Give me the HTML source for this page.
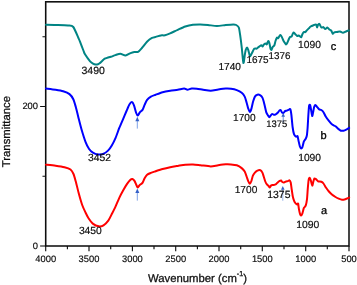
<!DOCTYPE html>
<html><head><meta charset="utf-8"><title>FTIR spectra</title>
<style>
html,body{margin:0;padding:0;background:#fff;}
svg{display:block;font-family:"Liberation Sans",Arial,sans-serif;}
svg text{fill:#0a0a0a;stroke:#0a0a0a;stroke-width:0.15px;text-rendering:geometricPrecision;}
svg text.h{stroke-width:0.25px;}
svg text.k{fill:#000;stroke:#000;stroke-width:0.3px;}
</style></head><body>
<svg width="357" height="285" viewBox="0 0 357 285">
<defs><filter id="soft" x="-2%" y="-2%" width="104%" height="104%"><feGaussianBlur stdDeviation="0.35"/></filter></defs>
<rect width="357" height="285" fill="#fff"/>
<g filter="url(#soft)">
<rect x="45.7" y="1.8" width="303.3" height="244.2" fill="none" stroke="#0a0a0a" stroke-width="1.55"/>
<path d="M45.7,246.0 v5.2 M67.4,246.0 v3.2 M89.0,246.0 v5.2 M110.7,246.0 v3.2 M132.4,246.0 v5.2 M154.0,246.0 v3.2 M175.7,246.0 v5.2 M197.4,246.0 v3.2 M219.0,246.0 v5.2 M240.7,246.0 v3.2 M262.3,246.0 v5.2 M284.0,246.0 v3.2 M305.7,246.0 v5.2 M327.3,246.0 v3.2 M349.0,246.0 v5.2 M45.7,246.0 h-5.6 M45.7,176.2 h-3.2 M45.7,106.5 h-5.6 M45.7,36.8 h-3.2" stroke="#0a0a0a" stroke-width="1.1" fill="none"/>
<path d="M46.00,24.80 C47.25,24.82 53.25,24.91 56.00,25.00 C58.75,25.09 65.84,25.25 68.00,25.50 C70.16,25.75 72.00,25.44 73.30,27.00 C74.60,28.56 77.56,36.16 78.40,38.00 C79.24,39.84 79.38,40.14 80.00,41.70 C80.62,43.26 82.78,48.92 83.40,50.50 C84.03,52.08 84.16,52.95 85.00,54.30 C85.84,55.65 89.10,60.14 90.10,61.30 C91.10,62.46 92.30,63.20 93.00,63.60 C93.70,64.00 95.08,64.42 95.70,64.50 C96.33,64.58 97.51,64.35 98.00,64.20 C98.49,64.05 99.11,63.67 99.60,63.30 C100.09,62.92 101.26,61.78 101.90,61.20 C102.54,60.62 104.00,59.14 104.70,58.70 C105.40,58.26 106.72,57.94 107.50,57.70 C108.28,57.46 109.91,57.12 110.90,56.80 C111.89,56.47 114.21,55.48 115.40,55.10 C116.59,54.73 119.14,53.76 120.40,53.80 C121.66,53.84 124.22,55.49 125.50,55.40 C126.78,55.31 129.50,53.51 130.60,53.10 C131.70,52.69 133.36,52.26 134.30,52.10 C135.24,51.94 137.15,52.31 138.10,51.80 C139.05,51.29 140.79,49.26 141.90,48.00 C143.01,46.74 145.74,42.96 147.00,41.70 C148.26,40.44 150.90,38.50 152.00,37.90 C153.10,37.30 154.69,37.21 155.80,36.90 C156.91,36.59 159.75,35.60 160.90,35.40 C162.05,35.20 163.85,35.55 165.00,35.30 C166.15,35.05 168.51,34.09 170.10,33.40 C171.69,32.71 175.80,30.66 177.70,29.80 C179.60,28.94 183.40,27.12 185.30,26.50 C187.20,25.88 191.01,25.05 192.90,24.80 C194.79,24.55 198.51,24.48 200.40,24.50 C202.29,24.52 205.94,24.81 208.00,25.00 C210.06,25.19 214.69,26.00 216.90,26.00 C219.11,26.00 223.65,25.20 225.70,25.00 C227.75,24.80 231.99,24.40 233.30,24.40 C234.61,24.40 235.51,24.61 236.20,25.00 C236.89,25.39 238.30,26.20 238.80,27.50 C239.30,28.80 239.82,32.84 240.20,35.40 C240.57,37.96 241.40,44.55 241.80,48.00 C242.20,51.45 243.01,62.21 243.40,63.00 C243.79,63.79 244.61,55.91 244.90,54.30 C245.19,52.69 245.42,50.96 245.70,50.10 C245.97,49.24 246.77,47.40 247.10,47.40 C247.43,47.40 247.94,49.01 248.30,50.10 C248.66,51.19 249.57,55.66 250.00,56.10 C250.43,56.54 251.17,54.51 251.70,53.60 C252.22,52.69 253.57,49.42 254.20,48.80 C254.82,48.17 256.07,48.88 256.70,48.60 C257.32,48.33 258.61,47.02 259.20,46.60 C259.79,46.18 260.97,45.20 261.40,45.20 C261.82,45.20 262.29,46.70 262.60,46.60 C262.91,46.50 263.47,44.79 263.90,44.40 C264.32,44.01 265.64,43.50 266.00,43.50 C266.36,43.50 266.53,44.71 266.80,44.40 C267.07,44.09 267.89,41.21 268.20,41.00 C268.51,40.79 269.01,41.75 269.30,42.70 C269.59,43.65 270.23,47.70 270.50,48.60 C270.77,49.50 271.23,50.11 271.50,49.90 C271.77,49.69 272.34,47.49 272.70,46.90 C273.06,46.31 274.05,45.94 274.40,45.20 C274.75,44.46 275.19,41.95 275.50,41.00 C275.81,40.05 276.56,37.95 276.90,37.60 C277.24,37.25 277.89,38.40 278.20,38.20 C278.51,38.00 279.10,36.39 279.40,36.00 C279.70,35.61 280.29,34.96 280.60,35.10 C280.91,35.24 281.52,36.36 281.90,37.10 C282.27,37.84 283.18,40.20 283.60,41.00 C284.03,41.80 284.99,43.08 285.30,43.50 C285.61,43.92 285.85,44.50 286.10,44.40 C286.35,44.30 286.94,43.40 287.30,42.70 C287.66,42.00 288.62,39.54 289.00,38.80 C289.38,38.06 289.96,37.09 290.30,36.80 C290.64,36.51 291.38,36.92 291.70,36.50 C292.02,36.08 292.61,33.89 292.90,33.40 C293.19,32.91 293.69,32.49 294.00,32.60 C294.31,32.71 295.01,33.88 295.40,34.30 C295.79,34.72 296.69,35.85 297.10,36.00 C297.51,36.15 298.29,35.40 298.70,35.50 C299.11,35.60 300.07,36.60 300.40,36.80 C300.72,37.00 301.05,37.41 301.30,37.10 C301.55,36.79 302.09,34.92 302.40,34.30 C302.71,33.67 303.46,32.38 303.80,32.10 C304.14,31.83 304.73,32.31 305.10,32.10 C305.48,31.89 306.34,30.86 306.80,30.40 C307.26,29.94 308.32,28.89 308.80,28.40 C309.28,27.91 310.01,26.90 310.60,26.50 C311.19,26.10 312.81,25.44 313.50,25.20 C314.19,24.96 315.65,24.31 316.10,24.60 C316.55,24.89 316.85,27.50 317.10,27.50 C317.35,27.50 317.81,25.04 318.10,24.60 C318.39,24.16 318.99,23.64 319.40,24.00 C319.81,24.36 320.90,27.11 321.40,27.50 C321.90,27.89 322.91,26.90 323.40,27.10 C323.89,27.30 324.81,29.05 325.30,29.10 C325.79,29.15 326.80,27.45 327.30,27.50 C327.80,27.55 328.81,29.12 329.30,29.50 C329.79,29.88 330.76,29.96 331.20,30.50 C331.64,31.04 332.43,33.56 332.80,33.80 C333.18,34.04 333.66,32.62 334.20,32.40 C334.74,32.17 336.36,32.11 337.10,32.00 C337.84,31.89 339.36,31.40 340.10,31.50 C340.84,31.60 342.26,32.80 343.00,32.80 C343.74,32.80 345.26,31.79 346.00,31.50 C346.74,31.21 348.54,30.62 348.90,30.50" fill="none" stroke="#008484" stroke-width="2" stroke-linejoin="round" stroke-linecap="round"/>
<path d="M46.00,88.60 C47.20,88.75 53.45,89.46 55.60,89.80 C57.75,90.14 61.46,90.76 63.20,91.30 C64.94,91.84 68.24,93.11 69.50,94.10 C70.76,95.09 72.51,97.59 73.30,99.20 C74.09,100.81 75.16,104.71 75.80,107.00 C76.44,109.29 77.70,114.75 78.40,117.50 C79.10,120.25 80.51,125.96 81.40,129.00 C82.29,132.04 84.54,139.30 85.50,141.80 C86.46,144.30 88.17,147.65 89.10,149.00 C90.02,150.35 91.80,151.91 92.90,152.60 C94.00,153.29 96.64,154.32 97.90,154.50 C99.16,154.68 101.74,154.49 103.00,154.00 C104.26,153.51 106.90,151.67 108.00,150.60 C109.10,149.53 110.85,147.00 111.80,145.40 C112.75,143.80 114.65,140.01 115.60,137.80 C116.55,135.59 118.45,130.08 119.40,127.70 C120.35,125.33 122.31,120.89 123.20,118.80 C124.09,116.71 125.72,112.79 126.50,111.00 C127.28,109.21 128.72,105.61 129.40,104.50 C130.08,103.39 131.33,101.99 131.90,102.10 C132.47,102.21 133.46,104.04 134.00,105.40 C134.54,106.76 135.74,111.74 136.20,113.00 C136.66,114.26 137.22,115.60 137.70,115.50 C138.17,115.40 139.40,112.90 140.00,112.20 C140.60,111.50 141.93,110.81 142.50,109.90 C143.07,108.99 144.03,106.16 144.60,104.90 C145.17,103.64 146.31,100.83 147.10,99.80 C147.89,98.77 149.85,97.33 150.90,96.70 C151.95,96.08 154.04,95.36 155.50,94.80 C156.96,94.24 160.76,92.71 162.60,92.20 C164.44,91.69 168.30,91.01 170.20,90.70 C172.10,90.39 176.06,89.98 177.80,89.70 C179.54,89.42 182.90,88.50 184.10,88.50 C185.30,88.50 186.45,89.70 187.40,89.70 C188.35,89.70 190.52,88.62 191.70,88.50 C192.88,88.38 195.38,88.55 196.80,88.70 C198.23,88.85 201.36,89.45 203.10,89.70 C204.84,89.95 208.81,90.73 210.70,90.70 C212.59,90.67 216.31,89.76 218.20,89.50 C220.09,89.24 224.20,88.69 225.80,88.60 C227.40,88.51 229.62,88.61 231.00,88.80 C232.38,88.99 235.46,89.61 236.80,90.10 C238.14,90.59 240.71,91.89 241.70,92.70 C242.69,93.51 244.09,95.38 244.70,96.60 C245.31,97.82 246.16,101.03 246.60,102.50 C247.04,103.97 247.77,107.21 248.20,108.40 C248.62,109.59 249.59,112.00 250.00,112.00 C250.41,112.00 251.11,109.71 251.50,108.40 C251.89,107.09 252.67,102.97 253.10,101.50 C253.53,100.03 254.36,97.45 254.90,96.60 C255.44,95.75 256.71,94.86 257.40,94.70 C258.09,94.54 259.77,94.94 260.40,95.30 C261.02,95.66 261.99,96.82 262.40,97.60 C262.81,98.38 263.39,100.39 263.70,101.50 C264.01,102.61 264.57,105.14 264.90,106.50 C265.22,107.86 265.93,111.30 266.30,112.40 C266.68,113.50 267.51,114.69 267.90,115.30 C268.29,115.91 269.04,117.30 269.40,117.30 C269.76,117.30 270.45,115.72 270.80,115.30 C271.15,114.88 271.82,113.98 272.20,113.90 C272.57,113.83 273.36,114.65 273.80,114.70 C274.24,114.75 275.21,114.54 275.70,114.30 C276.19,114.06 277.22,113.29 277.70,112.80 C278.18,112.31 279.14,110.75 279.50,110.40 C279.86,110.05 280.29,109.75 280.60,110.00 C280.91,110.25 281.62,112.05 282.00,112.40 C282.38,112.75 283.23,112.95 283.60,112.80 C283.98,112.65 284.59,111.48 285.00,111.20 C285.41,110.92 286.41,110.80 286.90,110.60 C287.39,110.40 288.47,109.77 288.90,109.60 C289.32,109.42 289.99,108.53 290.30,109.20 C290.61,109.88 291.11,112.78 291.40,115.00 C291.69,117.22 292.28,124.60 292.60,127.00 C292.93,129.40 293.57,132.99 294.00,134.20 C294.43,135.41 295.56,136.46 296.00,136.70 C296.44,136.94 297.19,135.61 297.50,136.10 C297.81,136.59 298.20,139.30 298.50,140.60 C298.80,141.90 299.57,145.51 299.90,146.50 C300.22,147.49 300.79,148.43 301.10,148.50 C301.41,148.57 302.06,147.96 302.40,147.10 C302.74,146.24 303.43,142.57 303.80,141.60 C304.18,140.62 305.02,140.04 305.40,139.30 C305.77,138.56 306.52,137.11 306.80,135.70 C307.08,134.29 307.41,130.46 307.60,128.00 C307.79,125.54 308.11,118.79 308.30,116.00 C308.49,113.21 308.86,107.05 309.10,105.70 C309.34,104.35 309.95,104.66 310.20,105.20 C310.45,105.74 310.85,108.64 311.10,110.00 C311.35,111.36 311.95,115.82 312.20,116.10 C312.45,116.38 312.85,113.36 313.10,112.20 C313.35,111.04 313.90,107.70 314.20,106.80 C314.50,105.90 315.15,105.00 315.50,105.00 C315.85,105.00 316.54,106.25 317.00,106.80 C317.46,107.35 318.66,109.00 319.20,109.40 C319.74,109.80 320.76,109.65 321.30,110.00 C321.84,110.35 322.95,111.39 323.50,112.20 C324.05,113.01 325.02,115.41 325.70,116.50 C326.38,117.59 328.09,119.89 328.90,120.90 C329.71,121.91 331.38,123.92 332.20,124.60 C333.02,125.27 334.74,125.76 335.50,126.30 C336.26,126.84 337.62,128.35 338.30,128.90 C338.98,129.45 340.25,130.47 340.90,130.70 C341.55,130.92 342.82,130.84 343.50,130.70 C344.18,130.56 345.59,129.95 346.30,129.60 C347.01,129.25 348.84,128.11 349.20,127.90" fill="none" stroke="#0000ff" stroke-width="2" stroke-linejoin="round" stroke-linecap="round"/>
<path d="M46.00,164.70 C47.20,164.82 53.29,165.39 55.60,165.70 C57.91,166.01 62.64,166.72 64.50,167.20 C66.36,167.67 69.38,168.65 70.50,169.50 C71.62,170.35 72.84,172.49 73.50,174.00 C74.16,175.51 75.14,179.16 75.80,181.60 C76.46,184.04 78.00,190.57 78.80,193.50 C79.60,196.43 81.36,202.62 82.20,205.00 C83.04,207.38 84.69,210.81 85.50,212.50 C86.31,214.19 87.79,217.11 88.70,218.50 C89.61,219.89 91.54,222.62 92.80,223.60 C94.06,224.57 97.46,226.09 98.80,226.30 C100.14,226.51 102.31,226.01 103.50,225.30 C104.69,224.59 107.26,222.01 108.30,220.60 C109.34,219.19 110.89,215.78 111.80,214.00 C112.71,212.22 114.65,208.45 115.60,206.40 C116.55,204.35 118.46,199.59 119.40,197.60 C120.34,195.61 122.16,192.19 123.10,190.50 C124.04,188.81 126.01,185.42 126.90,184.10 C127.79,182.78 129.51,180.54 130.20,179.90 C130.89,179.26 131.86,178.88 132.40,179.00 C132.94,179.12 133.99,180.12 134.50,180.90 C135.01,181.68 136.10,184.39 136.50,185.20 C136.90,186.01 137.26,187.46 137.70,187.40 C138.14,187.34 139.40,185.26 140.00,184.70 C140.60,184.14 141.93,183.70 142.50,182.90 C143.07,182.10 144.03,179.31 144.60,178.30 C145.17,177.29 146.31,175.48 147.10,174.80 C147.89,174.12 149.85,173.34 150.90,172.90 C151.95,172.46 154.04,171.79 155.50,171.30 C156.96,170.81 160.76,169.51 162.60,169.00 C164.44,168.49 168.30,167.59 170.20,167.20 C172.10,166.81 175.90,166.21 177.80,165.90 C179.70,165.59 183.50,164.89 185.40,164.70 C187.30,164.51 191.10,164.34 193.00,164.40 C194.90,164.46 198.39,164.95 200.60,165.20 C202.81,165.45 208.50,166.40 210.70,166.40 C212.90,166.40 216.31,165.46 218.20,165.20 C220.09,164.94 224.20,164.40 225.80,164.30 C227.40,164.20 229.62,164.28 231.00,164.40 C232.38,164.53 235.46,164.84 236.80,165.30 C238.14,165.76 240.71,167.31 241.70,168.10 C242.69,168.89 244.09,170.55 244.70,171.60 C245.31,172.65 246.16,175.31 246.60,176.50 C247.04,177.69 247.80,180.19 248.20,181.10 C248.60,182.01 249.43,183.75 249.80,183.80 C250.18,183.85 250.81,182.53 251.20,181.50 C251.59,180.47 252.44,176.71 252.90,175.60 C253.36,174.49 254.34,173.22 254.90,172.60 C255.46,171.97 256.71,170.89 257.40,170.60 C258.09,170.31 259.77,170.05 260.40,170.30 C261.02,170.55 261.99,171.82 262.40,172.60 C262.81,173.38 263.34,175.39 263.70,176.50 C264.06,177.61 264.90,180.51 265.30,181.50 C265.70,182.49 266.49,183.84 266.90,184.40 C267.31,184.96 268.24,185.62 268.60,186.00 C268.96,186.38 269.48,187.47 269.80,187.40 C270.12,187.33 270.77,185.70 271.20,185.40 C271.62,185.10 272.64,185.12 273.20,185.00 C273.76,184.88 275.14,184.72 275.70,184.40 C276.26,184.08 277.20,182.84 277.70,182.40 C278.20,181.96 279.29,181.14 279.70,180.90 C280.11,180.66 280.66,180.36 281.00,180.50 C281.34,180.64 282.02,181.76 282.40,182.00 C282.77,182.24 283.55,182.46 284.00,182.40 C284.45,182.34 285.51,181.66 286.00,181.50 C286.49,181.34 287.46,181.25 287.90,181.10 C288.34,180.95 289.15,180.14 289.50,180.30 C289.85,180.46 290.43,181.28 290.70,182.40 C290.97,183.53 291.44,187.54 291.70,189.30 C291.96,191.06 292.50,195.06 292.80,196.50 C293.10,197.94 293.74,199.93 294.10,200.80 C294.46,201.68 295.34,203.03 295.70,203.50 C296.06,203.97 296.70,204.60 297.00,204.60 C297.30,204.60 297.86,202.96 298.10,203.50 C298.34,204.04 298.66,207.60 298.90,208.90 C299.14,210.20 299.73,213.08 300.00,213.90 C300.27,214.72 300.80,215.57 301.10,215.50 C301.40,215.43 302.05,214.25 302.40,213.30 C302.75,212.35 303.49,208.85 303.90,207.90 C304.31,206.95 305.31,206.79 305.70,205.70 C306.09,204.61 306.74,201.38 307.00,199.20 C307.26,197.02 307.59,190.75 307.80,188.30 C308.01,185.85 308.45,180.91 308.70,179.60 C308.95,178.29 309.53,177.66 309.80,177.80 C310.07,177.94 310.60,179.71 310.90,180.70 C311.20,181.69 311.90,185.56 312.20,185.70 C312.50,185.84 313.03,182.70 313.30,181.80 C313.57,180.90 314.07,178.84 314.40,178.50 C314.72,178.16 315.44,178.75 315.90,179.10 C316.36,179.45 317.43,180.96 318.10,181.30 C318.78,181.64 320.62,181.53 321.30,181.80 C321.98,182.08 322.90,182.75 323.50,183.50 C324.10,184.25 325.43,186.80 326.10,187.80 C326.78,188.80 328.14,190.62 328.90,191.50 C329.66,192.38 331.38,194.11 332.20,194.80 C333.02,195.49 334.69,196.51 335.50,197.00 C336.31,197.49 337.89,198.35 338.70,198.70 C339.51,199.05 341.18,199.74 342.00,199.80 C342.82,199.86 344.40,199.47 345.30,199.20 C346.20,198.92 348.71,197.80 349.20,197.60" fill="none" stroke="#ff0000" stroke-width="2" stroke-linejoin="round" stroke-linecap="round"/>
<line x1="137.3" y1="120.7" x2="137.3" y2="128.6" stroke="#7096e4" stroke-width="0.9"/><path d="M137.3,116.8 l2.0,4.4 h-4.0 z" fill="#3560c8"/>
<line x1="137.3" y1="192.5" x2="137.3" y2="200.6" stroke="#7096e4" stroke-width="0.9"/><path d="M137.3,188.60000000000002 l2.0,4.4 h-4.0 z" fill="#3560c8"/>
<line x1="283.2" y1="116.2" x2="283.2" y2="122.6" stroke="#5f88d8" stroke-width="0.9"/><path d="M283.2,113.1 l1.8,3.6 h-3.6 z" fill="#3560c8"/>
<line x1="282.8" y1="189.20000000000002" x2="282.8" y2="200.8" stroke="#9db8ea" stroke-width="1.0"/><path d="M282.8,186.10000000000002 l1.8,3.6 h-3.6 z" fill="#3560c8"/>
<text x="81.48" y="74.3" font-size="10.51" text-anchor="start" >3490</text>
<text x="218.40" y="70.3" font-size="10.12" text-anchor="start" >1740</text>
<text x="246.41" y="63.35" font-size="9.98" text-anchor="start" >1675</text>
<text x="268.53" y="58.8" font-size="9.83" text-anchor="start" >1376</text>
<text x="298.08" y="47.9" font-size="10.27" text-anchor="start" >1090</text>
<text x="87.99" y="161.4" font-size="10.33" text-anchor="start" >3452</text>
<text x="233.10" y="120.9" font-size="10.12" text-anchor="start" >1700</text>
<text x="266.27" y="127.1" font-size="9.45" text-anchor="start" >1375</text>
<text x="298.18" y="161.1" font-size="10.27" text-anchor="start" >1090</text>
<text x="78.89" y="234.0" font-size="10.33" text-anchor="start" >3450</text>
<text x="234.69" y="192.7" font-size="10.17" text-anchor="start" >1700</text>
<text x="267.27" y="197.7" font-size="10.41" text-anchor="start" >1375</text>
<text x="296.17" y="227.9" font-size="10.41" text-anchor="start" >1090</text>
<text x="330.8" y="50.3" font-size="11" text-anchor="start" class="k">c</text>
<text x="320.5" y="138.5" font-size="11" text-anchor="start" class="k">b</text>
<text x="321.0" y="213.8" font-size="11" text-anchor="start" class="k">a</text>
<text x="45.7" y="261.6" font-size="9.35" text-anchor="middle" >4000</text>
<text x="89.0" y="261.6" font-size="9.35" text-anchor="middle" >3500</text>
<text x="132.4" y="261.6" font-size="9.35" text-anchor="middle" >3000</text>
<text x="175.7" y="261.6" font-size="9.35" text-anchor="middle" >2500</text>
<text x="219.0" y="261.6" font-size="9.35" text-anchor="middle" >2000</text>
<text x="262.3" y="261.6" font-size="9.35" text-anchor="middle" >1500</text>
<text x="305.7" y="261.6" font-size="9.35" text-anchor="middle" >1000</text>
<text x="349.0" y="261.6" font-size="9.35" text-anchor="middle" >500</text>
<text x="37.9" y="248.7" font-size="9.35" text-anchor="end" >0</text>
<text x="38.0" y="109.2" font-size="9.35" text-anchor="end" >200</text>
<text x="148.1" y="281.8" font-size="11.3" class="h">Wavenumber (cm<tspan font-size="7.2" dy="-5.9">-1</tspan><tspan dy="5.9">)</tspan></text>
<text transform="translate(9.6,131.6) rotate(-90)" font-size="11.3" text-anchor="middle" class="h">Transmittance</text>
</g>
</svg>
</body></html>
